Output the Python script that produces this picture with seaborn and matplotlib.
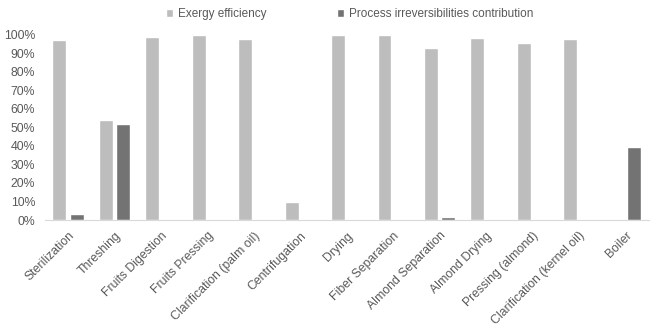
import pandas as pd
import matplotlib
matplotlib.use("Agg")
import matplotlib.pyplot as plt
import seaborn as sns
from matplotlib.ticker import PercentFormatter

# Process steps and values (fractions)
steps = ["Sterilization", "Threshing", "Fruits Digestion", "Fruits Pressing",
         "Clarification (palm oil)", "Centrifugation", "Drying", "Fiber Separation",
         "Almond Separation", "Almond Drying", "Pressing (almond)",
         "Clarification (kernel oil)", "Boiler"]
exergy_eff = [0.97, 0.54, 0.985, 0.997, 0.974, 0.10, 0.997, 0.997,
              0.93, 0.98, 0.952, 0.974, 0.0]
irrev_contrib = [0.032, 0.52, 0.006, 0.0, 0.0, 0.0, 0.0, 0.0,
                 0.015, 0.0, 0.0, 0.0, 0.394]
series = ["Exergy efficiency", "Process irreversibilities contribution"]

df = pd.DataFrame({
    "step": steps * 2,
    "series": [series[0]] * len(steps) + [series[1]] * len(steps),
    "value": exergy_eff + irrev_contrib,
})

sns.set_style("white")
plt.rcParams['font.family'] = ['Liberation Sans', 'DejaVu Sans']

txt = "#595959"
fig = plt.figure(figsize=(6.5, 3.29), dpi=100)
ax = fig.add_axes([0.069, 0.331, 0.929, 0.564])

sns.barplot(data=df, x="step", y="value", hue="series",
            palette=["#bdbdbd", "#737373"], width=0.75, gap=0.2,
            ax=ax, legend=True)

ax.set_ylim(0, 1)
ax.set_xlim(-0.5, len(steps) - 0.5)
ax.yaxis.set_major_locator(plt.MultipleLocator(0.1))
ax.yaxis.set_major_formatter(PercentFormatter(1.0, decimals=0))
ax.set_xlabel("")
ax.set_ylabel("")
ax.tick_params(axis="y", length=0, colors=txt, labelsize=8.8, pad=7)
ax.tick_params(axis="x", length=0, colors=txt, labelsize=8.8, pad=7)
plt.setp(ax.get_xticklabels(), rotation=45, ha="right", rotation_mode="anchor")

for s in ["top", "right", "left"]:
    ax.spines[s].set_visible(False)
ax.spines["bottom"].set_color("#d9d9d9")
ax.spines["bottom"].set_linewidth(0.8)

ax.legend(loc="upper center", bbox_to_anchor=(0.505, 1.2), ncol=2, frameon=False,
          fontsize=8.5, labelcolor=txt, handlelength=0.6, handleheight=0.6,
          handletextpad=0.4, columnspacing=6.0)

fig.savefig("out.png", dpi=100)
